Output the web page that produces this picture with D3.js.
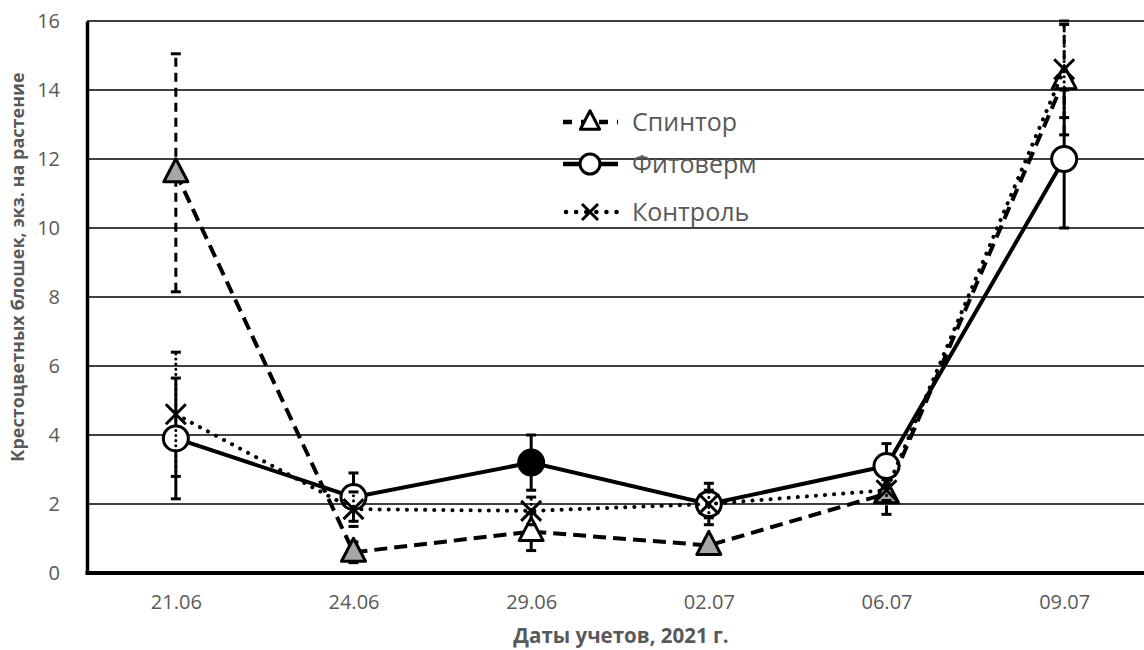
<!DOCTYPE html>
<html>
<head>
<meta charset="utf-8">
<title>Крестоцветные блошки</title>
<script src="https://d3js.org/d3.v7.min.js"></script>
<style>
  body { margin: 0; background: #fff; }
  text { font-family: "Open Sans", sans-serif; }
</style>
</head>
<body>
<div id="chart"></div>
<script>
// Data
var dates = ["21.06", "24.06", "29.06", "02.07", "06.07", "09.07"];
var yTicks = [0, 2, 4, 6, 8, 10, 12, 14, 16];

var spintor = [11.6, 0.6, 1.2, 0.8, 2.3, 14.3];
var spintorErr = [3.45, 0.3, 0.55, 0.2, 0.6, 1.6];
var spintorFill = ["#a6a6a6", "#a6a6a6", "#fff", "#a6a6a6", "#a6a6a6", "#fff"];

var fitoverm = [3.9, 2.2, 3.2, 2.0, 3.1, 12.0];
var fitovermErr = [1.75, 0.7, 0.8, 0.6, 0.65, 2.0];
var fitovermFill = ["#fff", "#fff", "#000", "#fff", "#fff", "#fff"];

var control = [4.6, 1.85, 1.8, 2.0, 2.4, 14.6];
var controlErr = [1.8, 0.5, 0.4, 0.4, 0.3, 1.4];

var W = 1144, H = 650;
var svg = d3.select("#chart").append("svg")
  .attr("width", W).attr("height", H);

var x = d3.scalePoint().domain(dates).range([87, 1153]).padding(0.5);
var y = d3.scaleLinear().domain([0, 16]).range([573, 21]);

// Gridlines
svg.append("g").selectAll("line")
  .data(yTicks.filter(function(d) { return d > 0; }))
  .enter().append("line")
  .attr("x1", 87).attr("x2", W)
  .attr("y1", function(d) { return y(d); })
  .attr("y2", function(d) { return y(d); })
  .attr("stroke", "#000").attr("stroke-width", 1.5);

// Axes
var yAxis = svg.append("g")
  .attr("transform", "translate(87,0)")
  .call(d3.axisLeft(y).tickValues(yTicks).tickSize(0).tickPadding(27));
yAxis.select(".domain").attr("stroke", "#000").attr("stroke-width", 3.5);
yAxis.selectAll("text").attr("font-size", 20).attr("fill", "#595959")
  .attr("font-family", "Open Sans, sans-serif");

var xAxis = svg.append("g")
  .attr("transform", "translate(0,573)")
  .call(d3.axisBottom(x).tickSize(0).tickPadding(22));
xAxis.select(".domain").attr("d", "M85.5,0H" + W).attr("stroke", "#000").attr("stroke-width", 4);
xAxis.selectAll("text").attr("font-size", 20).attr("fill", "#595959")
  .attr("font-family", "Open Sans, sans-serif");

// Axis titles
svg.append("text")
  .attr("transform", "translate(24,267) rotate(-90)")
  .attr("text-anchor", "middle")
  .attr("font-size", 18).attr("font-weight", "bold").attr("fill", "#595959")
  .text("Крестоцветных блошек, экз. на растение");

svg.append("text")
  .attr("x", 621).attr("y", 643)
  .attr("text-anchor", "middle")
  .attr("font-size", 20.5).attr("font-weight", "bold").attr("fill", "#595959")
  .text("Даты учетов, 2021 г.");

var series = [
  { name: "Спинтор", vals: spintor, err: spintorErr, dash: "13,7", cap: "butt", marker: "tri", fill: spintorFill },
  { name: "Фитоверм", vals: fitoverm, err: fitovermErr, dash: null, cap: "butt", marker: "circ", fill: fitovermFill },
  { name: "Контроль", vals: control, err: controlErr, dash: "0.1,9", cap: "round", marker: "x", fill: null }
];

var line = d3.line()
  .x(function(d, i) { return x(dates[i]); })
  .y(function(d) { return y(d); });

function drawMarker(g, type, cx, cy, fill, k) {
  k = k || 1;
  if (type === "tri") {
    g.append("path")
      .attr("d", "M" + cx + "," + (cy - 14 * k) + "L" + (cx + 12 * k) + "," + (cy + 9 * k) + "L" + (cx - 12 * k) + "," + (cy + 9 * k) + "Z")
      .attr("fill", fill).attr("stroke", "#000").attr("stroke-width", 3)
      .attr("stroke-linejoin", "round");
  } else if (type === "circ") {
    g.append("circle").attr("cx", cx).attr("cy", cy).attr("r", 12.5 * k)
      .attr("fill", fill).attr("stroke", "#000").attr("stroke-width", 3);
  } else {
    var r = 10 * k;
    g.append("path")
      .attr("d", "M" + (cx - r) + "," + (cy - r) + "L" + (cx + r) + "," + (cy + r) +
        "M" + (cx + r) + "," + (cy - r) + "L" + (cx - r) + "," + (cy + r))
      .attr("stroke", "#000").attr("stroke-width", 3).attr("fill", "none");
  }
}

var plot = svg.append("g");
series.forEach(function(s) {
  var g = plot.append("g");
  // error bars
  s.vals.forEach(function(v, i) {
    var cx = x(dates[i]);
    var lo = Math.max(0, v - s.err[i]), hi = Math.min(16.2, v + s.err[i]);
    g.append("line")
      .attr("x1", cx).attr("x2", cx).attr("y1", y(lo)).attr("y2", y(hi))
      .attr("stroke", "#000").attr("stroke-width", 3)
      .attr("stroke-dasharray", s.dash ? (s.cap === "round" ? "0.1,5" : "9,6") : null)
      .attr("stroke-linecap", s.cap);
    [lo, hi].forEach(function(e) {
      g.append("line")
        .attr("x1", cx - 5).attr("x2", cx + 5).attr("y1", y(e)).attr("y2", y(e))
        .attr("stroke", "#000").attr("stroke-width", 3);
    });
  });
  // line
  g.append("path").datum(s.vals)
    .attr("d", line).attr("fill", "none")
    .attr("stroke", "#000").attr("stroke-width", 4)
    .attr("stroke-dasharray", s.dash)
    .attr("stroke-linecap", s.cap);
  // markers
  s.vals.forEach(function(v, i) {
    drawMarker(g, s.marker, x(dates[i]), y(v), s.fill ? s.fill[i] : null);
  });
});

// Legend
var legend = svg.append("g");
series.forEach(function(s, i) {
  var ly = [122, 164, 212][i];
  legend.append("line")
    .attr("x1", s.cap === "round" ? 566 : 563).attr("x2", 618).attr("y1", ly).attr("y2", ly)
    .attr("stroke", "#000").attr("stroke-width", 4.5)
    .attr("stroke-dasharray", s.dash ? (s.cap === "round" ? "0.1,10" : "9,9") : null)
    .attr("stroke-linecap", s.cap);
  drawMarker(legend, s.marker, 590, ly, "#fff", 0.8);
  legend.append("text")
    .attr("x", 632).attr("y", ly + 9)
    .attr("font-size", 25).attr("fill", "#595959")
    .text(s.name);
});
</script>
</body>
</html>
